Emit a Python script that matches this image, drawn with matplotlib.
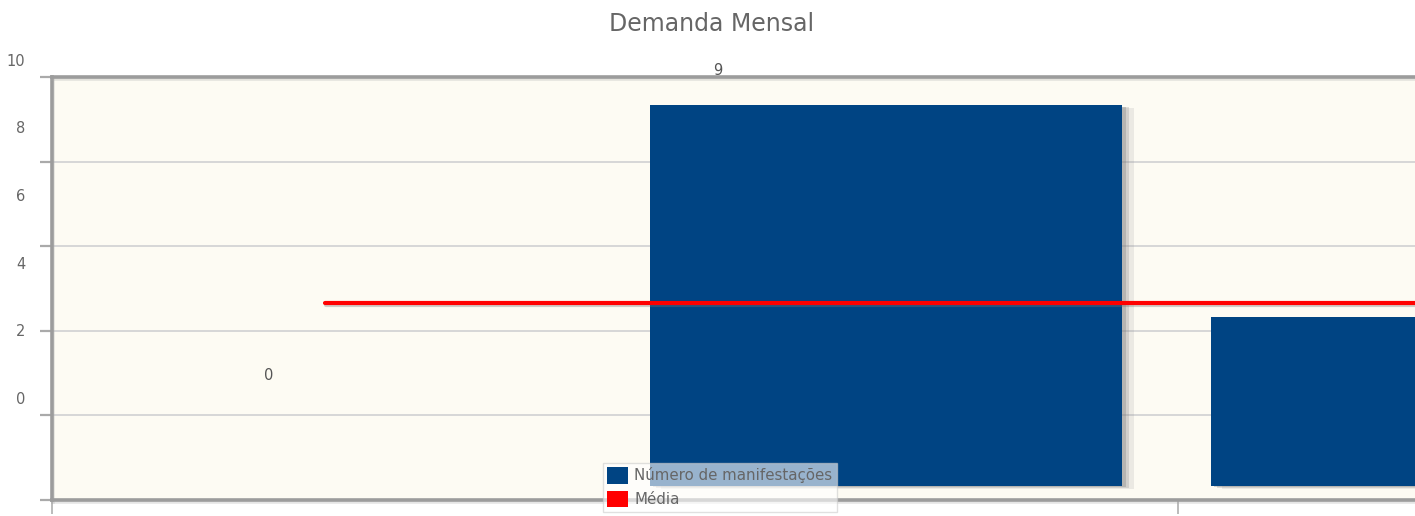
import matplotlib
matplotlib.use('Agg')
import matplotlib.pyplot as plt
from matplotlib import transforms
from matplotlib import patheffects as pe
from matplotlib.patches import Patch

# ---- data ----
categories = ['1', '2', '3']
values = [0, 9, 4]
series_names = ['Número de manifestações', 'Média']
y_ticks = [0, 2, 4, 6, 8, 10]
y_tick_labels = ['0', '2', '4', '6', '8', '10']
title = 'Demanda Mensal'
mean_value = sum(values) / len(values)

BAR_COLOR = '#004483'
MEAN_COLOR = '#ff0000'

W, H = 1415, 516
fig = plt.figure(figsize=(W / 100, H / 100), dpi=100)
fig.patch.set_facecolor('white')


def px_rect(l, t, r, b):
    return [l / W, 1 - b / H, (r - l) / W, (b - t) / H]


# main plotting layer
L, T, R, B = 52, 77, 1440, 500
ax = fig.add_axes(px_rect(L, T, R, B))
ax.set_facecolor('#fdfbf3')
x = list(range(len(values)))
xlim = (-0.4866, 1.9875)
ax.set_xlim(*xlim)
ax.set_ylim(0, 10)

ax.grid(axis='y', color='#d4d4d4', lw=1.3)
ax.set_axisbelow(True)
ax.set_yticks(y_ticks)
ax.tick_params(axis='y', labelleft=False, length=9, width=1.6,
               color='#aaaaaa', direction='out')
ax.set_xticks([xlim[0], 1.5205])
ax.tick_params(axis='x', labelbottom=False, length=10, width=1.4,
               color='#bbbbbb', direction='out')
for s in ['left', 'top', 'bottom']:
    ax.spines[s].set_color('#9c9c9c')
    ax.spines[s].set_linewidth(2.6)
    ax.spines[s].set_path_effects([
        pe.SimpleLineShadow(offset=(0.8, -1.2), shadow_color='#aaaaaa', alpha=0.3),
        pe.Normal()])
ax.spines['right'].set_visible(False)

shift = transforms.offset_copy(ax.transData, fig=fig, x=0, y=14, units='dots')

bars = ax.bar(x, values, width=0.843, color=BAR_COLOR, zorder=3)
for p in bars.patches:
    p.set_transform(shift)
    p.set_path_effects([
        pe.SimplePatchShadow(offset=(8, -2), shadow_rgbFace='#888888', alpha=0.15),
        pe.SimplePatchShadow(offset=(5, -1.5), shadow_rgbFace='#888888', alpha=0.25),
        pe.SimplePatchShadow(offset=(2.5, -1), shadow_rgbFace='#777777', alpha=0.3),
        pe.Normal()])

ax.plot(x, [mean_value] * len(x), color=MEAN_COLOR, lw=3, zorder=4,
        transform=shift, solid_capstyle='round',
        path_effects=[pe.SimpleLineShadow(offset=(1, -2), shadow_color='#777777', alpha=0.35),
                      pe.Normal()])

handles = [Patch(facecolor=BAR_COLOR), Patch(facecolor=MEAN_COLOR)]
leg = ax.legend(handles, series_names, loc='upper left',
                bbox_to_anchor=(603 / W, 1 - 463 / H), bbox_transform=fig.transFigure,
                fontsize=10.8, frameon=True, fancybox=False, framealpha=0.6,
                edgecolor='#cccccc', handlelength=1.4, handleheight=1.3,
                handletextpad=0.4, borderpad=0.28, labelspacing=0.5,
                borderaxespad=0, labelcolor='#666666')
leg.set_zorder(10)

# text layer (rendered at a 0.8 scale, as in the reference)
s = 0.8
tl, tr = s * L + 8.5, s * R + 8.5
tt, tb = s * T - 2, s * B - 2
axt = fig.add_axes(px_rect(tl, tt, tr, tb))
axt.set_facecolor('none')
axt.set_xlim(*xlim)
axt.set_ylim(0, 10)
for sp in axt.spines.values():
    sp.set_visible(False)
axt.set_xticks([])
axt.set_yticks(y_ticks)
axt.set_yticklabels(y_tick_labels)
axt.tick_params(axis='y', length=0, pad=18, labelsize=10.5, labelcolor='#666666')
for xi, v in zip(x, values):
    axt.annotate(str(v), (xi, v), xytext=(0, 23), textcoords='offset pixels',
                 ha='center', va='center', fontsize=10.5, color='#555555')

fig.text(712 / W, 1 - 24 / H, title, ha='center', va='center',
         fontsize=17, color='#666666')

fig.savefig('out.png', dpi=100)
